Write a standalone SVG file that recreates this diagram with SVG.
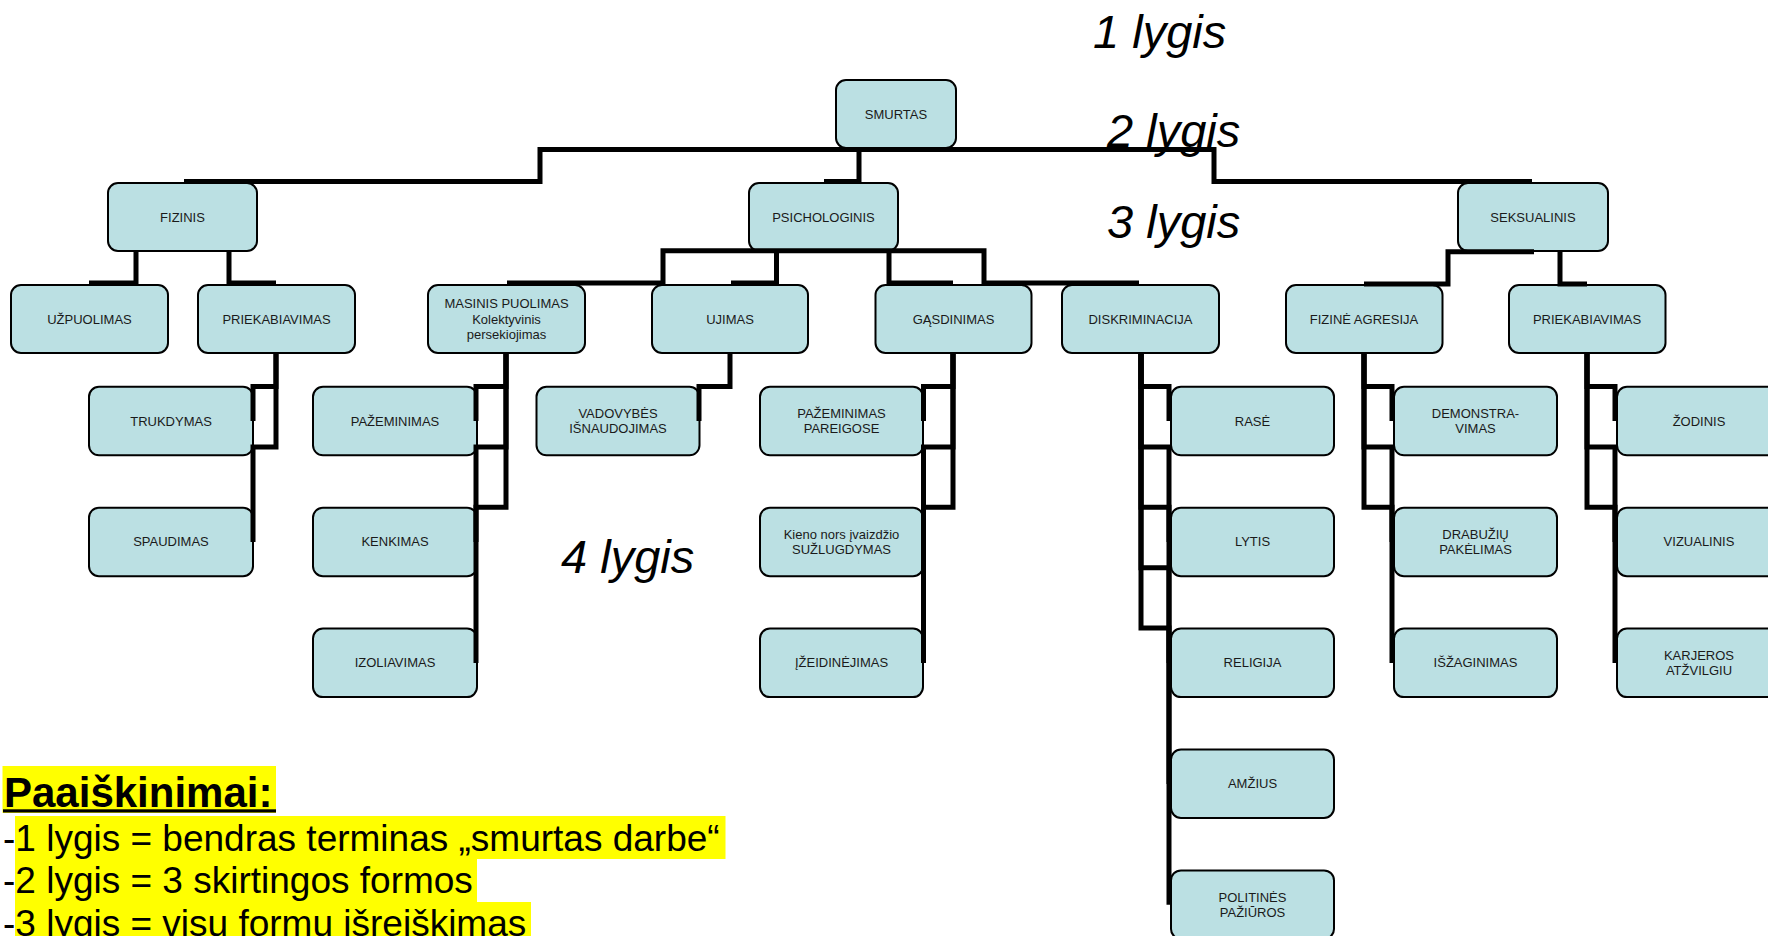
<svg xmlns="http://www.w3.org/2000/svg" width="1768" height="936" viewBox="0 0 1768 936">
<style>
.b rect{fill:#BBE0E3;stroke:#000;stroke-width:2}
.b text{font-family:"Liberation Sans",Arial,sans-serif;font-size:13px;fill:#1a1a1a;text-anchor:middle}
.c path{fill:none;stroke:#000;stroke-width:5;stroke-linejoin:miter;stroke-linecap:butt}
.lv{font-family:"Liberation Sans",Arial,sans-serif;font-size:47px;font-style:italic;fill:#000}
.lg{font-family:"Liberation Sans",Arial,sans-serif;font-size:37px;fill:#000}
</style>
<rect width="1768" height="936" fill="#fff"/>

<g class="b">
<g id="smurtas"><rect x="836" y="80" width="120" height="68" rx="10"/><text x="896" y="118.5">SMURTAS</text></g>
<g id="fizinis"><rect x="108" y="183" width="149" height="68" rx="10"/><text x="182.5" y="221.5">FIZINIS</text></g>
<g id="psichologinis"><rect x="749" y="183" width="149" height="68" rx="10"/><text x="823.5" y="221.5">PSICHOLOGINIS</text></g>
<g id="seksualinis"><rect x="1458" y="183" width="150" height="68" rx="10"/><text x="1533" y="221.5">SEKSUALINIS</text></g>

<g id="uzpuolimas"><rect x="11" y="285" width="157" height="68" rx="10"/><text x="89.5" y="323.5">UŽPUOLIMAS</text></g>
<g id="priekabiavimas1"><rect x="198" y="285" width="157" height="68" rx="10"/><text x="276.5" y="323.5">PRIEKABIAVIMAS</text></g>
<g id="masinis"><rect x="428" y="285" width="157" height="68" rx="10"/><text x="506.5" y="307.8">MASINIS PUOLIMAS</text><text x="506.5" y="323.5">Kolektyvinis</text><text x="506.5" y="339.2">persekiojimas</text></g>
<g id="ujimas"><rect x="652" y="285" width="156" height="68" rx="10"/><text x="730" y="323.5">UJIMAS</text></g>
<g id="gasdinimas"><rect x="875.5" y="285" width="156" height="68" rx="10"/><text x="953.5" y="323.5">GĄSDINIMAS</text></g>
<g id="diskriminacija"><rect x="1062" y="285" width="157" height="68" rx="10"/><text x="1140.5" y="323.5">DISKRIMINACIJA</text></g>
<g id="fizine-agresija"><rect x="1286" y="285" width="156.5" height="68" rx="10"/><text x="1364" y="323.5">FIZINĖ AGRESIJA</text></g>
<g id="priekabiavimas2"><rect x="1509" y="285" width="156.5" height="68" rx="10"/><text x="1587" y="323.5">PRIEKABIAVIMAS</text></g>

<g id="trukdymas"><rect x="89" y="386.8" width="164" height="68.5" rx="10"/><text x="171" y="425.5">TRUKDYMAS</text></g>
<g id="spaudimas"><rect x="89" y="507.7" width="164" height="68.5" rx="10"/><text x="171" y="546.4">SPAUDIMAS</text></g>
<g id="pazeminimas"><rect x="313" y="386.8" width="164" height="68.5" rx="10"/><text x="395" y="425.5">PAŽEMINIMAS</text></g>
<g id="kenkimas"><rect x="313" y="507.7" width="164" height="68.5" rx="10"/><text x="395" y="546.4">KENKIMAS</text></g>
<g id="izoliavimas"><rect x="313" y="628.6" width="164" height="68.5" rx="10"/><text x="395" y="667.3">IZOLIAVIMAS</text></g>
<g id="vadovybes"><rect x="536.5" y="386.8" width="163" height="68.5" rx="10"/><text x="618" y="418">VADOVYBĖS</text><text x="618" y="433">IŠNAUDOJIMAS</text></g>
<g id="pazeminimas-pareigose"><rect x="760" y="386.8" width="163" height="68.5" rx="10"/><text x="841.5" y="418">PAŽEMINIMAS</text><text x="841.5" y="433">PAREIGOSE</text></g>
<g id="suzlugdymas"><rect x="760" y="507.7" width="163" height="68.5" rx="10"/><text x="841.5" y="538.9">Kieno nors įvaizdžio</text><text x="841.5" y="553.9">SUŽLUGDYMAS</text></g>
<g id="izeidinejimas"><rect x="760" y="628.6" width="163" height="68.5" rx="10"/><text x="841.5" y="667.3">ĮŽEIDINĖJIMAS</text></g>
<g id="rase"><rect x="1171" y="386.8" width="163" height="68.5" rx="10"/><text x="1252.5" y="425.5">RASĖ</text></g>
<g id="lytis"><rect x="1171" y="507.7" width="163" height="68.5" rx="10"/><text x="1252.5" y="546.4">LYTIS</text></g>
<g id="religija"><rect x="1171" y="628.6" width="163" height="68.5" rx="10"/><text x="1252.5" y="667.3">RELIGIJA</text></g>
<g id="amzius"><rect x="1171" y="749.5" width="163" height="68.5" rx="10"/><text x="1252.5" y="788.2">AMŽIUS</text></g>
<g id="politines"><rect x="1171" y="870.4" width="163" height="68.5" rx="10"/><text x="1252.5" y="901.6">POLITINĖS</text><text x="1252.5" y="916.6">PAŽIŪROS</text></g>
<g id="demonstravimas"><rect x="1394" y="386.8" width="163" height="68.5" rx="10"/><text x="1475.5" y="418">DEMONSTRA-</text><text x="1475.5" y="433">VIMAS</text></g>
<g id="drabuziu"><rect x="1394" y="507.7" width="163" height="68.5" rx="10"/><text x="1475.5" y="538.9">DRABUŽIŲ</text><text x="1475.5" y="553.9">PAKĖLIMAS</text></g>
<g id="isžaginimas"><rect x="1394" y="628.6" width="163" height="68.5" rx="10"/><text x="1475.5" y="667.3">IŠŽAGINIMAS</text></g>
<g id="zodinis"><rect x="1617" y="386.8" width="164" height="68.5" rx="10"/><text x="1699" y="425.5">ŽODINIS</text></g>
<g id="vizualinis"><rect x="1617" y="507.7" width="164" height="68.5" rx="10"/><text x="1699" y="546.4">VIZUALINIS</text></g>
<g id="karjeros"><rect x="1617" y="628.6" width="164" height="68.5" rx="10"/><text x="1699" y="659.8">KARJEROS</text><text x="1699" y="674.8">ATŽVILGIU</text></g>
</g>

<g class="c" id="connectors">
<path d="M184,181.5 H540 V149.5 H1214 V181.5 H1532"/>
<path d="M859,149.5 V181.5 H824"/>
<path d="M136,251 V283 H89"/>
<path d="M229,251 V283 H276"/>
<path d="M507,283 H663 V250.7 H984 V283 H1139"/>
<path d="M776.5,250.7 V283 H731"/>
<path d="M889,250.7 V283 H953"/>
<path d="M1534,251.7 H1448 V284 H1364"/>
<path d="M1560,251 V284 H1587"/>

<path d="M276,353 V386.5 H253 V421"/>
<path d="M276,353 V446.9 H253 V542"/>

<path d="M506,353 V386.5 H476 V421"/>
<path d="M506,353 V446.9 H476 V542"/>
<path d="M506,353 V507.3 H476 V663"/>

<path d="M730,353 V386.5 H699 V421"/>

<path d="M953,353 V386.5 H923.5 V421"/>
<path d="M953,353 V446.9 H923.5 V542"/>
<path d="M953,353 V507.3 H923.5 V663"/>

<path d="M1141,353 V386.5 H1169 V421"/>
<path d="M1141,353 V446.9 H1169 V542"/>
<path d="M1141,353 V507.3 H1169 V663"/>
<path d="M1141,353 V567.7 H1169 V784"/>
<path d="M1141,353 V628.1 H1169 V904.7"/>

<path d="M1364,353 V386.5 H1392 V421"/>
<path d="M1364,353 V446.9 H1392 V542"/>
<path d="M1364,353 V507.3 H1392 V663"/>

<path d="M1587,353 V386.5 H1615 V421"/>
<path d="M1587,353 V446.9 H1615 V542"/>
<path d="M1587,353 V507.3 H1615 V663"/>
</g>

<g id="levels">
<text class="lv" x="1093" y="48">1 lygis</text>
<text class="lv" x="1107" y="147">2 lygis</text>
<text class="lv" x="1107" y="238">3 lygis</text>
<text class="lv" x="561" y="572.5">4 lygis</text>
</g>

<g id="legend">
<rect x="2.5" y="766" width="273.5" height="47" fill="#ffff00"/>
<rect x="3" y="809.3" width="273" height="3.2" fill="#000"/>
<text x="4" y="806.5" style="font-family:'Liberation Sans',Arial,sans-serif;font-size:42px;font-weight:bold">Paaiškinimai:</text>
<rect x="15" y="816" width="710.5" height="43" fill="#ffff00"/>
<rect x="15" y="859" width="462" height="43" fill="#ffff00"/>
<rect x="15" y="902" width="516" height="34" fill="#ffff00"/>
<text class="lg" x="3" y="850.5">-1 lygis = bendras terminas „smurtas darbe“</text>
<text class="lg" x="3" y="893.2">-2 lygis = 3 skirtingos formos</text>
<text class="lg" x="3" y="935.9">-3 lygis = visų formų išreiškimas</text>
</g>
</svg>
